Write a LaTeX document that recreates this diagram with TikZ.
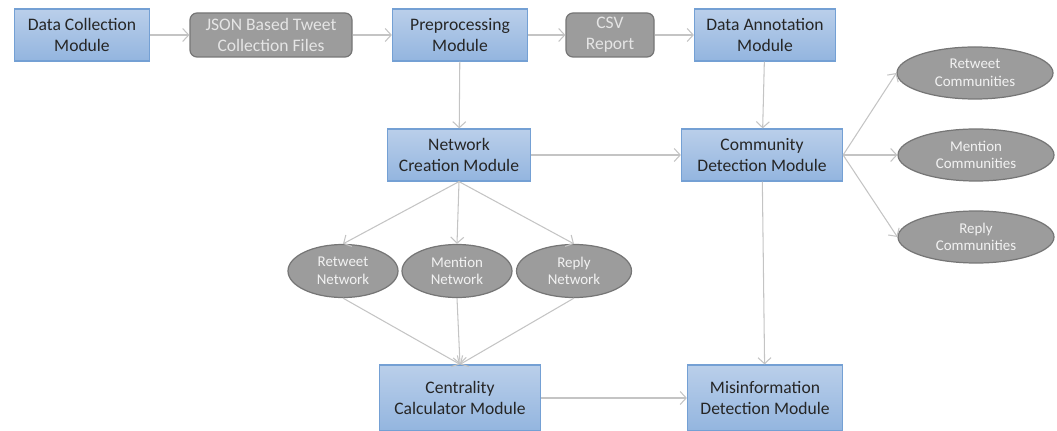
\documentclass[tikz,border=0pt]{standalone}
\usepackage{fontspec}
\setmainfont{Carlito}
\usepackage{xcolor}
\usetikzlibrary{shapes.geometric, arrows.meta, positioning}

\definecolor{boxtop}{HTML}{BACFEA}
\definecolor{boxbot}{HTML}{93B5DF}
\definecolor{boxline}{HTML}{74A0D4}
\definecolor{greyfill}{HTML}{9C9C9C}
\definecolor{greyline}{HTML}{767676}
\definecolor{flowline}{HTML}{C4C4C4}

\begin{document}
\begin{tikzpicture}[
  module/.style={draw=boxline, line width=0.7pt, top color=boxtop, bottom color=boxbot,
    text=black!85, align=center, inner sep=0pt, font=\fontsize{10}{12}\selectfont},
  report/.style={draw=greyline, line width=0.7pt, fill=greyfill, rounded corners=0.14cm,
    text=white!90!black, align=center, inner sep=0pt, font=\fontsize{10}{12}\selectfont},
  netw/.style={ellipse, draw=greyline, line width=0.7pt, fill=greyfill,
    text=white!95!black, align=center, inner sep=0pt, minimum width=2.2cm, minimum height=1.06cm,
    font=\fontsize{8.5}{10}\selectfont},
  flow/.style={draw=flowline, line width=0.6pt, -{Straight Barb[length=1.2mm, width=2.6mm]}}
]
\useasboundingbox (0,0) rectangle (21.14,8.6);

% Top row
\node[module, minimum width=2.70cm, minimum height=1.04cm] (dc) at (1.64,7.90) {Data Collection\\Module};
\node[report, minimum width=3.24cm, minimum height=0.88cm] (json) at (5.42,7.90) {JSON Based Tweet\\Collection Files};
\node[module, minimum width=2.70cm, minimum height=1.04cm] (prep) at (9.20,7.90) {Preprocessing\\Module};
\node[report, minimum width=1.76cm, minimum height=0.88cm] (csv) at (12.20,7.90) {CSV\\Report};
\node[module, minimum width=2.82cm, minimum height=1.04cm] (anno) at (15.30,7.90) {Data Annotation\\Module};

% Middle row
\node[module, minimum width=2.86cm, minimum height=1.04cm] (netcr) at (9.18,5.50) {Network\\Creation Module};
\node[module, minimum width=3.22cm, minimum height=1.04cm] (comdet) at (15.24,5.50) {Community\\Detection Module};

% Networks
\node[netw] (rtnet) at (6.86,3.18) {Retweet\\Network};
\node[netw] (mnnet) at (9.14,3.18) {Mention\\Network};
\node[netw, minimum width=2.3cm] (rpnet) at (11.48,3.18) {Reply\\Network};

% Communities
\node[netw, minimum width=3.12cm, minimum height=1.04cm] (rtcom) at (19.50,7.14) {Retweet\\Communities};
\node[netw, minimum width=3.12cm, minimum height=1.04cm] (mncom) at (19.52,5.50) {Mention\\Communities};
\node[netw, minimum width=3.12cm, minimum height=1.04cm] (rpcom) at (19.52,3.86) {Reply\\Communities};

% Bottom row
\node[module, minimum width=3.22cm, minimum height=1.32cm] (central) at (9.20,0.64) {Centrality\\Calculator Module};
\node[module, minimum width=3.10cm, minimum height=1.32cm] (misinfo) at (15.30,0.64) {Misinformation\\Detection Module};

% Connectors
\draw[flow] (dc) -- (json);
\draw[flow] (json) -- (prep);
\draw[flow] (prep) -- (csv);
\draw[flow] (csv) -- (anno);
\draw[flow] (prep) -- (netcr);
\draw[flow] (anno) -- (comdet);
\draw[flow] (netcr) -- (comdet);
\draw[flow] (netcr.south) -- (rtnet.north);
\draw[flow] (netcr.south) -- (mnnet.north);
\draw[flow] (netcr.south) -- (rpnet.north);
\draw[flow] (rtnet.south) -- (central.north);
\draw[flow] (mnnet.south) -- (central.north);
\draw[flow] (rpnet.south) -- (central.north);
\draw[flow] (comdet.east) -- (rtcom.west);
\draw[flow] (comdet.east) -- (mncom.west);
\draw[flow] (comdet.east) -- (rpcom.west);
\draw[flow] (comdet) -- (misinfo);
\draw[flow] (central) -- (misinfo);
\end{tikzpicture}
\end{document}
